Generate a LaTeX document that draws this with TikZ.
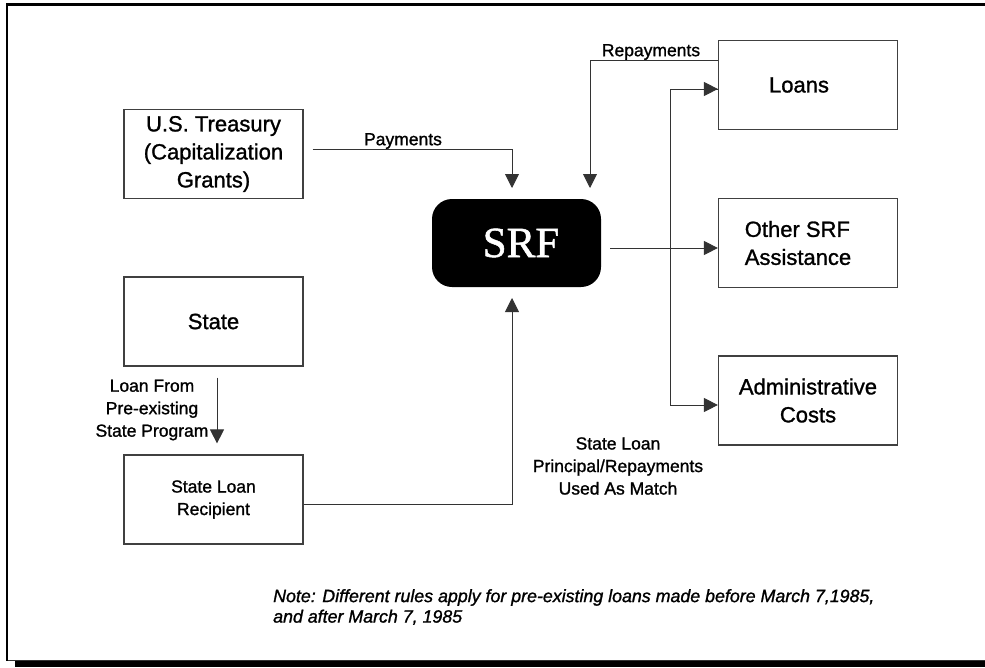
\documentclass[tikz,border=0pt]{standalone}
\usepackage{fontspec}
\setmainfont{Liberation Sans}
\newfontfamily\serfont[FakeBold=1.2]{Liberation Serif}
\newfontfamily\heavy[FakeBold=1.2]{Liberation Sans}
\usetikzlibrary{arrows.meta}
\newcommand{\boxfont}{\heavy\fontsize{22}{28}\selectfont}
\newcommand{\lblfont}{\heavy\fontsize{17.5}{22.5}\selectfont}
\begin{document}
\begin{tikzpicture}[x=1pt,y=-1pt,
  box/.style={draw=black!75, line width=1.2pt, minimum width=179pt, minimum height=89pt, inner sep=0pt, align=center, font=\boxfont},
  lbl/.style={font=\lblfont, align=center, inner sep=0pt},
  arr/.style={-{Triangle[length=14pt,width=14pt]}, line width=0.9pt, draw=black!80},
  ln/.style={line width=0.9pt, draw=black!80}]
\useasboundingbox (0,0) rectangle (985,667);
% frame
\fill[black] (15,661) rectangle (985,667);
\draw[line width=0.8pt, black!80] (7,660.5) -- (985,660.5);
\draw[line width=2pt] (7,4) -- (7,661);
\draw[line width=3pt] (6,4.5) -- (985,4.5);
% boxes
\node[box] (treas) at (213.5,154) {U.S. Treasury\\(Capitalization\\Grants)};
\node[box] (state) at (213.5,321.5) {\raisebox{-8pt}{State}};
\node[box, font=\lblfont] (recip) at (213.5,499.5) {State Loan\\Recipient};
\node[box] (loans) at (808,85) {\raisebox{-6pt}{Loans}\hspace*{18pt}};
\node[box, align=left] (other) at (808,243) {Other SRF\\Assistance\hspace*{20pt}};
\node[box] (admin) at (808,400.5) {Administrative\\Costs};
\node[fill=black, rounded corners=20pt, minimum width=169pt, minimum height=88pt, inner sep=0pt, text=white, font=\serfont\fontsize{43}{43}\selectfont] (srf) at (516.5,243) {\hspace*{9pt}\raisebox{-4pt}{SRF}};
% helper coordinates
\coordinate (payin) at (512,199);
\coordinate (repin) at (590,199);
\coordinate (matchin) at (512,287);
\coordinate (bus) at (670,248);
% connectors
\draw[arr, shorten <=9pt, shorten >=11pt] ([yshift=5pt]treas.east) -| (payin);
\draw[arr, shorten >=11pt] ([yshift=25pt]loans.west) -| (repin);
\draw[arr, shorten >=11pt] (recip.east |- 0,504) -| (matchin);
\draw[arr, shorten <=9pt] (srf.east |- bus) -- (other.west |- bus);
\draw[ln] (loans.west |- 0,89) -| (670,405) coordinate (busend);
\draw[arr] (670,89) -- (loans.west |- 0,89);
\draw[arr] (busend) -- (admin.west |- busend);
\draw[arr, shorten <=11pt, shorten >=11pt] (state.south -| 217,0) -- (recip.north -| 217,0);
% labels
\node[lbl] at (403,141) {Payments};
\node[lbl] at (651,52) {Repayments};
\node[lbl] at (152,410) {Loan From\\Pre-existing\\State Program};
\node[lbl] at (618,466) {State Loan\\Principal/Repayments\\Used As Match};
\node[font=\heavy\itshape\fontsize{17.8}{20.5}\selectfont, align=left, inner sep=0pt, anchor=north west] at (273,589) {Note: Different rules apply for pre-existing loans made before March 7,1985,\\and after March 7, 1985};
\end{tikzpicture}
\end{document}
